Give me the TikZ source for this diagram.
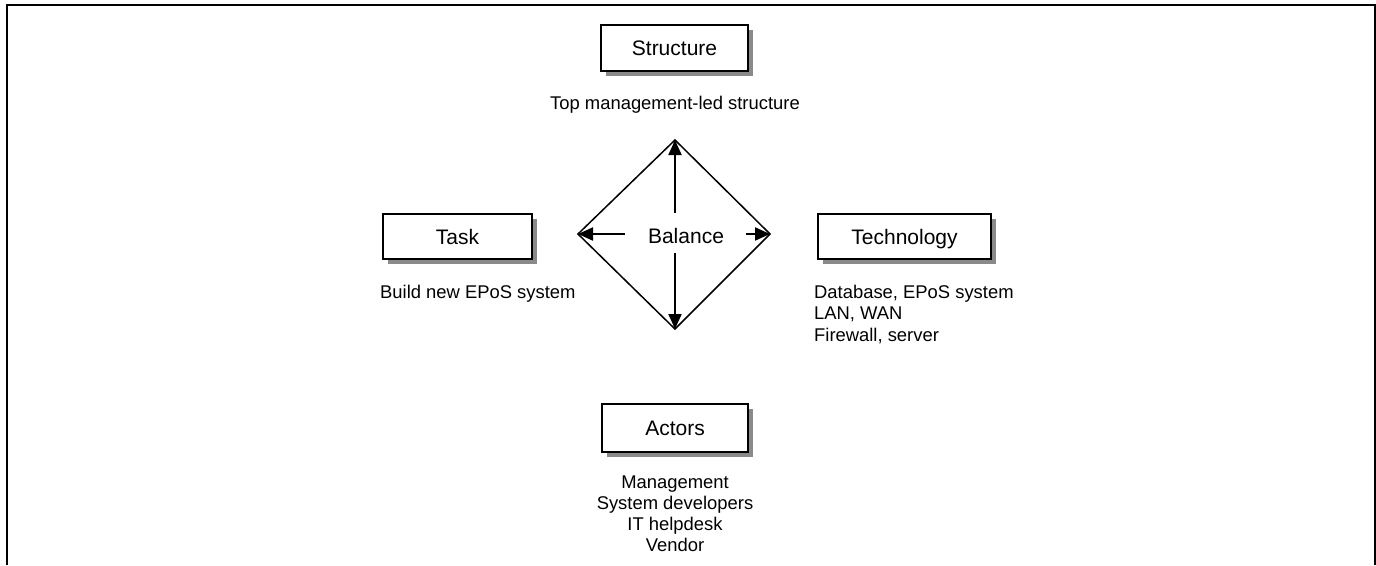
\documentclass[tikz,border=0pt]{standalone}
\usepackage{fontspec}
\setmainfont{Liberation Sans}
\usetikzlibrary{arrows.meta}
\definecolor{shadowgray}{HTML}{8A8A8A}
\begin{document}
\begin{tikzpicture}[x=1pt,y=-1pt,
  box/.style={draw=black,line width=1.5pt,fill=white,minimum height=46pt,inner sep=0pt,
    text height=15pt,text depth=0pt,font=\fontsize{21}{24}\selectfont},
  shade/.style={fill=shadowgray,draw=none},
  small/.style={inner sep=0pt,font=\fontsize{18.4}{21.2}\selectfont},
  arr/.style={line width=2pt,-{Triangle[length=15pt,width=13pt]}},
  dia/.style={line width=1.5pt,line join=miter}
]
\useasboundingbox (0,0) rectangle (1376,565);
\draw[line width=2pt] (7,565) -- (7,5) -- (1374.5,5) -- (1374.5,565);

% shadows
\fill[shade] (606,30) rectangle (753,76);
\fill[shade] (388,219) rectangle (537,264);
\fill[shade] (823,219) rectangle (996,264);
\fill[shade] (607,409) rectangle (753,457);

% boxes
\node[box,minimum width=147pt] (struct) at (674.5,48) {Structure};
\node[box,minimum width=149pt,minimum height=45pt] (task) at (457.5,236.5) {Task};
\node[box,minimum width=173pt,minimum height=45pt] (tech) at (904.5,236.5) {Technology};
\node[box,minimum width=146pt,minimum height=48pt] (actors) at (675,428) {Actors};

% texts
\node[small,anchor=base] (structtxt) at (675,109.6) {Top management-led structure};
\node[small,anchor=base west] (tasktxt) at (380,298.6) {Build new EPoS system};
\node[small,anchor=north west,align=left] (techtxt) at (814,285.2) {Database, EPoS system\\LAN, WAN\\Firewall, server};
\node[small,anchor=north,align=center] (actorstxt) at (675,475.5) {Management\\System developers\\IT helpdesk\\Vendor};

% diamond
\coordinate (dT) at (675,140);
\coordinate (dR) at (770,234);
\coordinate (dB) at (675,329);
\coordinate (dL) at (578,234);
\draw[dia] (dT) -- (dR) -- (dB) -- (dL) -- cycle;
\node[inner sep=0pt,font=\fontsize{21}{24}\selectfont] (bal) at (686,236) {Balance};
\coordinate (aU) at (675,213);
\coordinate (aD) at (675,253);
\coordinate (aL) at (625,234);
\coordinate (aR) at (746,234);
\draw[arr] (aU) -- (dT);
\draw[arr] (aD) -- (dB);
\draw[arr] (aL) -- (dL);
\draw[arr] (aR) -- (dR);
\end{tikzpicture}
\end{document}
